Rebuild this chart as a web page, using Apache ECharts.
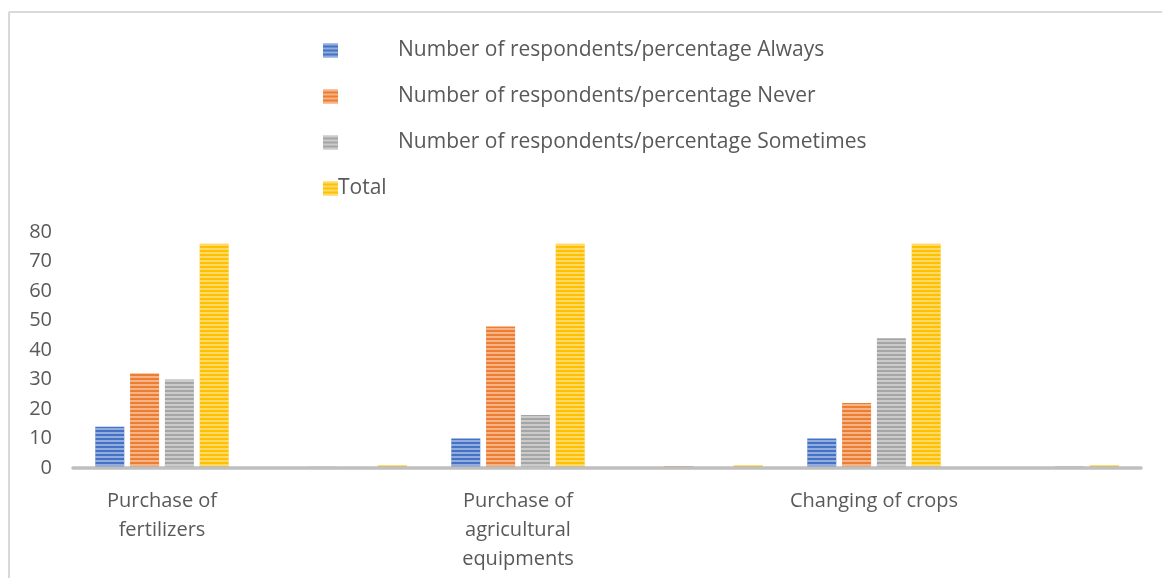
<!DOCTYPE html>
<html>
<head>
<meta charset="utf-8">
<script src="https://cdn.jsdelivr.net/npm/echarts@6/dist/echarts.min.js"></script>
<style>
  html, body { margin: 0; padding: 0; background: #ffffff; }
  #chart { width: 1162px; height: 578px; }
</style>
</head>
<body>
<div id="chart"></div>
<script>
// Categories: each activity is followed by an unlabeled column holding the shares
const categories = ['Purchase of\nfertilizers', '', 'Purchase of\nagricultural\nequipments', '', 'Changing of crops', ''];
const seriesNames = [
  'Number of respondents/percentage Always',
  'Number of respondents/percentage Never',
  'Number of respondents/percentage Sometimes',
  'Total'
];
const always    = [14, 0.18, 10, 0.13, 10, 0.13];
const never     = [32, 0.42, 48, 0.63, 22, 0.29];
const sometimes = [30, 0.39, 18, 0.24, 44, 0.58];
const total     = [76, 1, 76, 1, 76, 1];
const yTicks = [0, 10, 20, 30, 40, 50, 60, 70, 80];

const colors = ['#4472c4', '#ed7d31', '#a5a5a5', '#ffc000'];
const values = [always, never, sometimes, total];

const stripes = {
  symbol: 'rect',
  symbolSize: 1,
  dashArrayX: [1, 0],
  dashArrayY: [2, 2],
  rotation: 0,
  color: 'rgba(255,255,255,0.42)'
};

const chart = echarts.init(document.getElementById('chart'), null, { renderer: 'canvas' });

chart.setOption({
  animation: false,
  color: colors,
  textStyle: { fontFamily: 'Open Sans' },
  graphic: [
    { type: 'line', shape: { x1: 9, y1: 12, x2: 1162, y2: 12 }, style: { stroke: '#d9d9d9', lineWidth: 2 } },
    { type: 'line', shape: { x1: 9, y1: 12, x2: 9, y2: 578 }, style: { stroke: '#d9d9d9', lineWidth: 2 } }
  ],
  legend: {
    orient: 'vertical',
    left: 318,
    top: 32,
    itemWidth: 15,
    itemHeight: 14,
    itemGap: 19,
    icon: 'rect',
    data: seriesNames,
    formatter: function (name) {
      return name === 'Total' ? name : '{pad|' + name + '}';
    },
    textStyle: {
      color: '#595959',
      fontSize: 21,
      lineHeight: 27,
      padding: [0, 0, 0, -5],
      rich: {
        pad: { fontSize: 21, color: '#595959', padding: [0, 0, 0, 60] }
      }
    }
  },
  grid: { left: 73, right: 21, top: 232, bottom: 110, containLabel: false },
  xAxis: {
    type: 'category',
    data: categories,
    z: 3,
    axisLine: { lineStyle: { color: '#bfbfbf', width: 3.5 } },
    axisTick: { show: false },
    axisLabel: {
      color: '#595959',
      fontSize: 20,
      lineHeight: 29,
      margin: 19,
      interval: 0
    }
  },
  yAxis: {
    type: 'value',
    min: 0,
    max: yTicks[yTicks.length - 1],
    interval: yTicks[1] - yTicks[0],
    axisLine: { show: false },
    axisTick: { show: false },
    splitLine: { show: false },
    axisLabel: { color: '#595959', fontSize: 20, margin: 21 }
  },
  series: seriesNames.map(function (name, i) {
    return {
      name: name,
      type: 'bar',
      data: values[i],
      barWidth: 29,
      barGap: '20%',
      itemStyle: { color: colors[i], decal: stripes }
    };
  })
});
</script>
</body>
</html>
